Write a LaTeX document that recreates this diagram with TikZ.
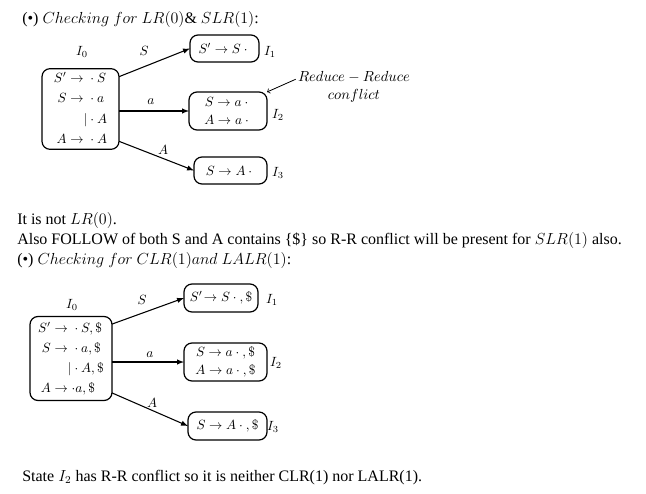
\documentclass[tikz,border=0pt]{standalone}
\usepackage{fontspec}
\setmainfont{Liberation Serif}
\usetikzlibrary{calc,positioning,arrows}
\renewcommand{\arraystretch}{1.12}

\begin{document}
\begin{tikzpicture}[
  x=0.75pt, y=-0.75pt,
  state box/.style={
    rectangle,
    rounded corners=6pt,
    fill=white!100,
    line width=0.9pt,
    draw=black,
    font=\fontsize{10}{13.5}\selectfont,
    align=center,
    inner sep=0pt,
    outer sep=0pt
  },
  item label/.style={
    font=\fontsize{10}{12}\selectfont,
    inner sep=0pt
  },
  edge label/.style={
    font=\fontsize{10}{12}\selectfont,
    inner sep=0pt
  },
  body text/.style={
    anchor=base west,
    font=\fontsize{12}{14}\selectfont,
    inner sep=0pt
  },
  goto/.style={
    -latex,
    line width=0.8pt
  }
  ]
\useasboundingbox (0,0) rectangle (646,493);
% LR(0) and SLR(1)
\node [body text] (lr0 head) at (22,23) {(•) $Checking\ for\ LR(0)$\&\ $SLR(1)$:};
% I0
\node [state box, minimum width=57.75pt, minimum height=58.5pt] (lr0 box) at (80.5,109)
  {$\begin{array}{r@{}l}
    S' & {}\to{}\cdot{}S\\
    S  & {}\to{}\cdot{}a\\
       & \hphantom{{}\to{}}\llap{$|$}{}\cdot{}A\\
    A  & {}\to{}\cdot{}A
  \end{array}$};
\node [item label] (lr0 name) at (82,52) {$I_0$};
% I1
\node [state box, minimum width=51.75pt, minimum height=20.25pt] (lr1 box) at (224.5,48.5) {$S'\to S\cdot{}$};
\node [item label] (lr1 name) at (270,52) {$I_1$};
\draw [goto] (lr0 box.40) -- (lr1 box.west);
\node [edge label] (lr0 s) at (144,51) {$S$};
% I2
\node [state box, minimum width=58.5pt, minimum height=28.5pt] (lr2 box) at (228,111) {$S\to a\cdot{}$\\$A\to a\cdot{}$};
\node [item label] (lr2 name) at (278,115) {$I_2$};
\draw [goto] (lr0 box.east |- lr2 box.west) -- (lr2 box.west);
\node [edge label] (lr0 a) at (151,102) {$a$};
% I3
\node [state box, minimum width=54.75pt, minimum height=20.25pt] (lr3 box) at (230.5,170.5) {$S\to A\cdot{}$};
\node [item label] (lr3 name) at (278,173) {$I_3$};
\draw [goto] (lr0 box.-40) -- (lr3 box.west);
\node [edge label] (lr0 A) at (163,150) {$A$};
% Reduce-Reduce note
\node [item label, font=\fontsize{11}{13.5}\selectfont, align=center] (reduce note) at (354,87) {$Reduce - Reduce$\\$conflict$};
\coordinate (reduce tail) at ($(reduce note.north west)+(-2,8)$);
\draw [->, line width=0.6pt] (reduce tail) -- (lr2 box.north east);
% text
\node [body text] (not lr0) at (17,224) {It is not $LR(0)$.};
\node [body text] (follow) at (17,244) {Also FOLLOW of both S and A contains \{\$\} so R-R conflict will be present for $SLR(1)$ also.};
\node [body text] (clr head) at (17,264) {(•) $Checking\ for\ CLR(1)and\ LALR(1)$:};
% CLR(1) and LALR(1)
% I0
\node [state box, minimum width=61.5pt, minimum height=63pt] (clr0 box) at (71,358.5)
  {$\begin{array}{r@{}l}
    S' & {}\to{}\cdot{}S,\$\\
    S  & {}\to{}\cdot{}a,\$\\
       & \hphantom{{}\to{}}\llap{$|$}{}\cdot{}A,\$\\
    A  & {}\to\cdot{}a,\$
  \end{array}$};
\node [item label] (clr0 name) at (72,305) {$I_0$};
% I1
\node [state box, minimum width=55.5pt, minimum height=21pt] (clr1 box) at (221,298) {$S'\!\to S\cdot{},\$$};
\node [item label] (clr1 name) at (272,300) {$I_1$};
\draw [goto] (clr0 box.40) -- (clr1 box.west);
\node [edge label] (clr0 s) at (142,300) {$S$};
% I2
\node [state box, minimum width=62.25pt, minimum height=28.5pt] (clr2 box) at (225.5,362) {$S\to a\cdot{},\$$\\$A\to a\cdot{},\$$};
\node [item label] (clr2 name) at (276,363) {$I_2$};
\draw [goto] (clr0 box.east |- clr2 box.west) -- (clr2 box.west);
\node [edge label] (clr0 a) at (150,355) {$a$};
% I3
\node [state box, minimum width=59.25pt, minimum height=21pt] (clr3 box) at (227.5,426) {$S\to A\cdot{},\$$};
\node [item label] (clr3 name) at (273,427) {$I_3$};
\draw [goto] (clr0 box.-40) -- (clr3 box.west);
\node [edge label] (clr0 A) at (152,403) {$A$};
% conclusion
\node [body text] (verdict) at (22,481) {State $I_2$ has R-R conflict so it is neither CLR(1) nor LALR(1).};
\end{tikzpicture}
\end{document}
